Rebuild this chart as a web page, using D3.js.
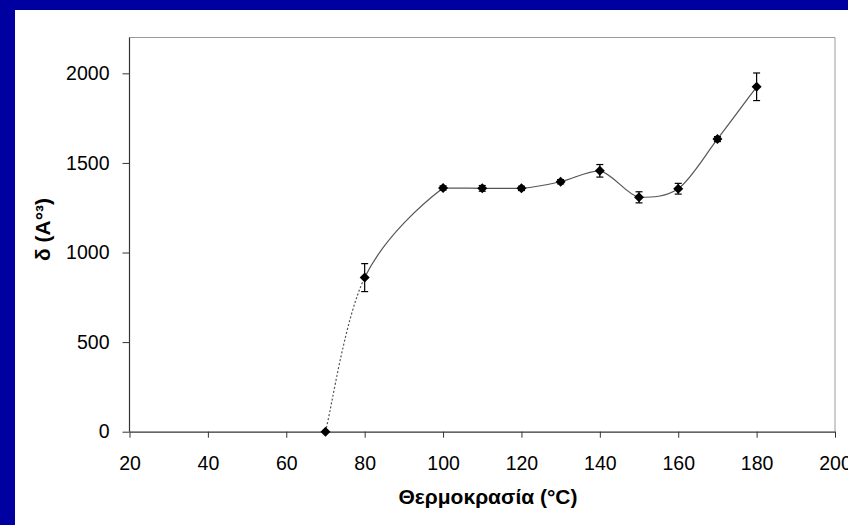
<!DOCTYPE html>
<html>
<head>
<meta charset="utf-8">
<script src="https://cdn.jsdelivr.net/npm/d3@7"></script>
<style>
  html, body { margin: 0; padding: 0; background: #0000a0; overflow: hidden; }
  svg { display: block; }
  text { font-family: "Liberation Sans", Arial, sans-serif; fill: #000; }
</style>
</head>
<body>
<svg id="chart" width="848" height="525"></svg>
<script>
// ── data ──
const temps   = [70, 80, 100, 110, 120, 130, 140, 150, 160, 170, 180];
const delta   = [0, 860, 1360, 1358, 1358, 1395, 1456, 1308, 1356, 1633, 1925];
const errs    = [0, 78, 12, 16, 12, 12, 35, 31, 30, 14, 77];
const xTicks  = [20, 40, 60, 80, 100, 120, 140, 160, 180, 200];
const yTicks  = [0, 500, 1000, 1500, 2000];
const dashedUntil = 80;   // segment 70→80 is drawn dotted

const W = 848, H = 525;
const plot = { left: 129.5, right: 835, top: 37.5, bottom: 431.7 };

const svg = d3.select('#chart');

// background panels
svg.append('rect').attr('width', W).attr('height', H).attr('fill', '#0000a0');
svg.append('rect').attr('x', 15).attr('y', 10).attr('width', W - 15).attr('height', H - 10).attr('fill', '#fff');

const x = d3.scaleLinear().domain([20, 200]).range([plot.left, plot.right]);
const y = d3.scaleLinear().domain([0, 2200]).range([plot.bottom, plot.top]);

// frame (top + right, light grey)
svg.append('path')
  .attr('d', `M${plot.left},${plot.top}H${plot.right}V${plot.bottom}`)
  .attr('fill', 'none')
  .attr('stroke', '#9a9a9a')
  .attr('stroke-width', 1);

// axes
const gx = svg.append('g')
  .attr('transform', `translate(0,${plot.bottom})`)
  .call(d3.axisBottom(x).tickValues(xTicks).tickFormat(d3.format('d'))
    .tickSize(6).tickSizeOuter(0).tickPadding(18.5));
const gy = svg.append('g')
  .attr('transform', `translate(${plot.left},0)`)
  .call(d3.axisLeft(y).tickValues(yTicks).tickFormat(d3.format('d'))
    .tickSize(7).tickSizeOuter(0).tickPadding(13));

[gx, gy].forEach(g => {
  g.select('.domain').attr('stroke', '#333').attr('stroke-width', 1.2);
  g.selectAll('.tick line').attr('stroke', '#333').attr('stroke-width', 1);
  g.selectAll('.tick text')
    .attr('font-family', '"Liberation Sans", Arial, sans-serif')
    .attr('font-size', 19.5)
    .attr('fill', '#000');
});
gy.select('.domain').attr('d', `M0,${plot.top}V${plot.bottom}`);

// axis titles
svg.append('text')
  .attr('x', 488)
  .attr('y', 504)
  .attr('text-anchor', 'middle')
  .attr('font-size', 21)
  .attr('font-weight', 'bold')
  .text('Θερμοκρασία (°C)');

svg.append('text')
  .attr('transform', 'translate(43,229.5) rotate(-90)')
  .attr('text-anchor', 'middle')
  .attr('dy', '0.35em')
  .attr('font-size', 21)
  .attr('font-weight', 'bold')
  .text('δ (A°³)');

// ── smoothed line (Excel-like: Catmull-Rom beziers, no overshoot past segment ends) ──
const pts = temps.map((t, i) => ({ t, v: delta[i], e: errs[i] }));
const P = pts.map(d => [x(d.t), y(d.v)]);

function segmentPath(from, to) {
  const p = d3.path();
  p.moveTo(P[from][0], P[from][1]);
  for (let i = from; i < to; i++) {
    const p0 = P[Math.max(i - 1, 0)], p1 = P[i], p2 = P[i + 1], p3 = P[Math.min(i + 2, P.length - 1)];
    const lo = Math.min(p1[1], p2[1]), hi = Math.max(p1[1], p2[1]);
    const c1 = [p1[0] + (p2[0] - p0[0]) / 6, p1[1] + (p2[1] - p0[1]) / 6];
    const c2 = [p2[0] - (p3[0] - p1[0]) / 6, p2[1] - (p3[1] - p1[1]) / 6];
    c1[1] = Math.max(lo, Math.min(hi, c1[1]));
    c2[1] = Math.max(lo, Math.min(hi, c2[1]));
    p.bezierCurveTo(c1[0], c1[1], c2[0], c2[1], p2[0], p2[1]);
  }
  return p.toString();
}

const split = temps.indexOf(dashedUntil);

svg.append('path')
  .attr('d', segmentPath(0, split))
  .attr('fill', 'none')
  .attr('stroke', '#555')
  .attr('stroke-width', 1.2)
  .attr('stroke-dasharray', '2,2');

svg.append('path')
  .attr('d', segmentPath(split, P.length - 1))
  .attr('fill', 'none')
  .attr('stroke', '#555')
  .attr('stroke-width', 1.2);

// error bars
const eb = svg.append('g').selectAll('g')
  .data(pts.filter(d => d.e > 0))
  .join('g')
  .attr('stroke', '#000')
  .attr('stroke-width', 1.2);
eb.append('line')
  .attr('x1', d => x(d.t)).attr('x2', d => x(d.t))
  .attr('y1', d => y(d.v + d.e)).attr('y2', d => y(d.v - d.e));
eb.append('line')
  .attr('x1', d => x(d.t) - 3.5).attr('x2', d => x(d.t) + 3.5)
  .attr('y1', d => y(d.v + d.e)).attr('y2', d => y(d.v + d.e));
eb.append('line')
  .attr('x1', d => x(d.t) - 3.5).attr('x2', d => x(d.t) + 3.5)
  .attr('y1', d => y(d.v - d.e)).attr('y2', d => y(d.v - d.e));

// diamond markers
const r = 5;
svg.append('g').selectAll('path')
  .data(pts)
  .join('path')
  .attr('d', `M0,${-r}L${r},0L0,${r}L${-r},0Z`)
  .attr('transform', d => `translate(${x(d.t)},${y(d.v)})`)
  .attr('fill', '#000');
</script>
</body>
</html>
